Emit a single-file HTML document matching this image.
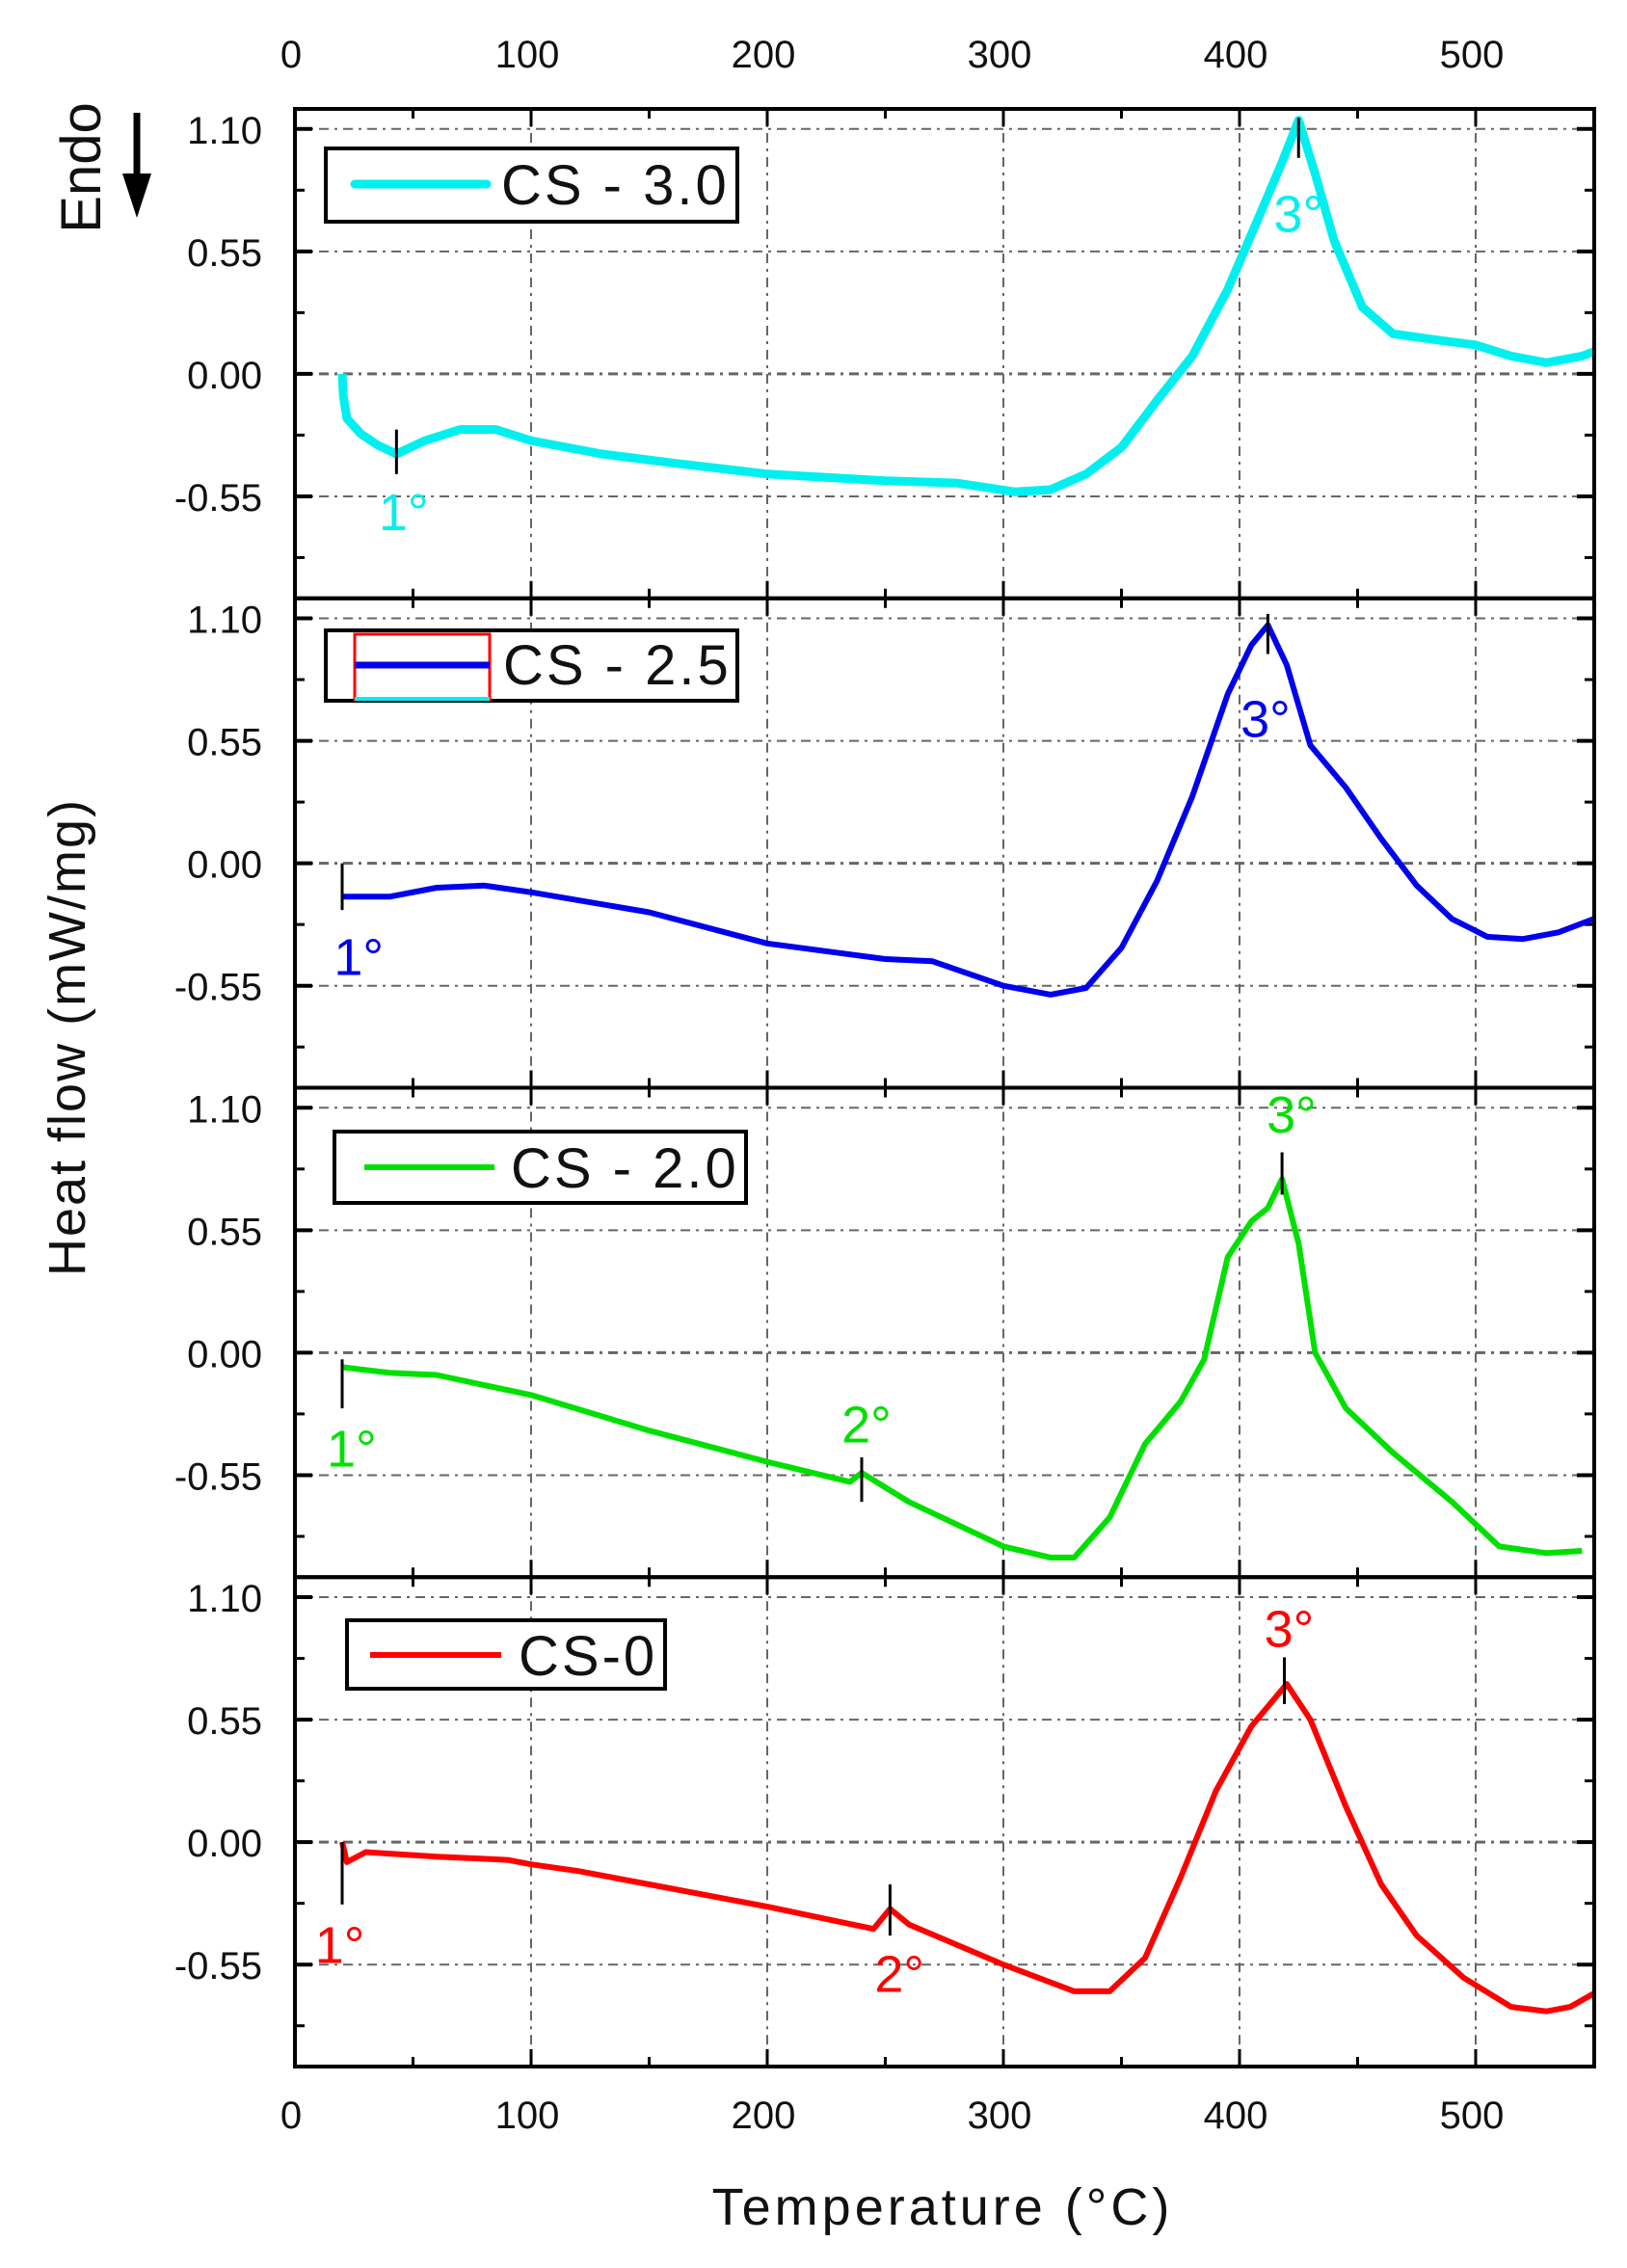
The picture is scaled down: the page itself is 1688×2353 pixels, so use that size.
<!DOCTYPE html>
<html><head><meta charset="utf-8"><title>DSC curves</title>
<style>html,body{margin:0;padding:0;background:#fff}svg{display:block}</style></head>
<body>
<svg id="chart" width="1688" height="2353" viewBox="0 0 1688 2353" xmlns="http://www.w3.org/2000/svg" font-family="'Liberation Sans', Arial, sans-serif"></svg>
<script>
const xTicks = [0,100,200,300,400,500];
const xMinor = [50,150,250,350,450,550];
const yTicks = [1.10,0.55,0.00,-0.55];
const yTickLabels = ["1.10","0.55","0.00","-0.55"];
const yMinor = [0.825,0.275,-0.275,-0.825];
const seriesNames = ["CS - 3.0","CS - 2.5","CS - 2.0","CS-0"];
const seriesColors = ["#00f0f0","#0000ee","#00e000","#ff0000"];
// CS-3.0
const t30 = [20,20.5,22,28,35,43,55,70,85,100,130,160,200,250,280,305,320,335,350,365,380,395,408,418,425,432,440,452,465,485,500,515,530,545,550];
const v30 = [0,-0.1,-0.2,-0.27,-0.32,-0.36,-0.3,-0.25,-0.25,-0.3,-0.36,-0.4,-0.45,-0.48,-0.49,-0.53,-0.52,-0.45,-0.33,-0.12,0.08,0.38,0.7,0.95,1.14,0.9,0.6,0.3,0.18,0.15,0.13,0.08,0.05,0.08,0.1];
// CS-2.5
const t25 = [20,40,60,80,100,150,200,250,270,300,320,335,350,365,380,395,405,412,420,430,445,460,475,490,505,520,535,550];
const v25 = [-0.15,-0.15,-0.11,-0.1,-0.13,-0.22,-0.36,-0.43,-0.44,-0.55,-0.59,-0.56,-0.38,-0.08,0.3,0.76,0.98,1.07,0.89,0.53,0.34,0.11,-0.1,-0.25,-0.33,-0.34,-0.31,-0.25];
// CS-2.0
const t20 = [20,40,60,100,150,200,235,240,260,300,320,330,345,360,375,385,395,405,412,418,425,432,445,465,490,510,530,545];
const v20 = [-0.065,-0.09,-0.1,-0.19,-0.35,-0.49,-0.58,-0.54,-0.67,-0.87,-0.92,-0.92,-0.74,-0.41,-0.22,-0.03,0.43,0.59,0.65,0.78,0.49,0.0,-0.25,-0.45,-0.67,-0.87,-0.9,-0.89];
// CS-0
const t0 = [20,22,30,60,90,100,120,150,200,245,252,260,300,330,345,360,375,390,405,420,430,445,460,475,495,515,530,540,550];
const v0 = [0,-0.09,-0.045,-0.065,-0.08,-0.1,-0.13,-0.19,-0.29,-0.39,-0.3,-0.37,-0.55,-0.67,-0.67,-0.52,-0.16,0.23,0.52,0.71,0.55,0.16,-0.19,-0.42,-0.61,-0.74,-0.76,-0.74,-0.68];
const seriesT = [t30,t25,t20,t0];
const seriesV = [v30,v25,v20,v0];
const annText = [["1°","3°"],["1°","3°"],["1°","2°","3°"],["1°","2°","3°"]];
const annT = [[46,425],[27,411],[24,242,422],[19,256,421]];
const annV = [[-0.62,0.72],[-0.42,0.65],[-0.43,-0.32,1.07],[-0.46,-0.59,0.96]];
const markT = [[43,425],[20,412],[20,240,418],[20,252,419]];
const markV1 = [[-0.25,1.15],[0,1.12],[-0.03,-0.47,0.90],[0,-0.19,0.83]];
const markV2 = [[-0.45,0.97],[-0.21,0.94],[-0.25,-0.67,0.71],[-0.28,-0.42,0.62]];

const NS="http://www.w3.org/2000/svg";
const svg=document.getElementById('chart');
const L=306, R=1654, PT=113, PH=507.75, VTOP=1.19, PXU=231;
const X=t=>L+t*2.45;
const Y=(p,v)=>PT+p*PH+(VTOP-v)*PXU;
function mk(tag,attrs,parent){const e=document.createElementNS(NS,tag);for(const k in attrs)e.setAttribute(k,attrs[k]);(parent||svg).appendChild(e);return e;}

for(let p=0;p<4;p++){
  const g=mk('g',{});
  
  
  const top=PT+p*PH, bot=top+PH;
  xTicks.slice(1).forEach(t=>{const l=mk('line',{x1:X(t),x2:X(t),y1:top,y2:bot,stroke:'#666','stroke-width':2,'stroke-dasharray':'10 6 3 6'},g);
    });
  yTicks.forEach(v=>{const l=mk('line',{x1:L,x2:R,y1:Y(p,v),y2:Y(p,v),stroke:'#666','stroke-width':v===0?3:2,'stroke-dasharray':'10 6 3 6'},g);
    });
  xTicks.forEach(t=>{mk('line',{x1:X(t),x2:X(t),y1:top,y2:top+18,stroke:'#000','stroke-width':3},g);mk('line',{x1:X(t),x2:X(t),y1:bot,y2:bot-18,stroke:'#000','stroke-width':3},g);});
  xMinor.forEach(t=>{if(X(t)<R){mk('line',{x1:X(t),x2:X(t),y1:top,y2:top+10,stroke:'#000','stroke-width':3},g);mk('line',{x1:X(t),x2:X(t),y1:bot,y2:bot-10,stroke:'#000','stroke-width':3},g);}});
  yTicks.forEach((v,i)=>{mk('line',{x1:L,x2:L+18,y1:Y(p,v),y2:Y(p,v),stroke:'#000','stroke-width':4},g);mk('line',{x1:R,x2:R-18,y1:Y(p,v),y2:Y(p,v),stroke:'#000','stroke-width':4},g);
    const tx=mk('text',{x:272,y:Y(p,v)+15,'text-anchor':'end','font-size':40,fill:'#111'},g);tx.textContent=yTickLabels[i];
    });
  yMinor.forEach(v=>{mk('line',{x1:L,x2:L+10,y1:Y(p,v),y2:Y(p,v),stroke:'#000','stroke-width':3},g);mk('line',{x1:R,x2:R-10,y1:Y(p,v),y2:Y(p,v),stroke:'#000','stroke-width':3},g);});
  const pts=seriesT[p].map((t,i)=>X(t).toFixed(1)+','+Y(p,seriesV[p][i]).toFixed(1)).join(' ');
  const c=mk('polyline',{points:pts,fill:'none',stroke:seriesColors[p],'stroke-width':p===0?9:6,'stroke-linejoin':'round'},g);
  
  
  annText[p].forEach((s,i)=>{
    const m=mk('line',{x1:X(markT[p][i]),x2:X(markT[p][i]),y1:Y(p,markV1[p][i]),y2:Y(p,markV2[p][i]),stroke:'#000','stroke-width':3},g);
    
    const tx=mk('text',{x:X(annT[p][i]),y:Y(p,annV[p][i])+19,'text-anchor':'middle','font-size':54,fill:seriesColors[p]},g);
    tx.textContent=s;
    
  });
  const f=mk('rect',{x:L,y:top,width:R-L,height:PH,fill:'none',stroke:'#000','stroke-width':4},g);
  
}
xTicks.forEach(t=>{[70,2208].forEach(yy=>{const tx=mk('text',{x:X(t)-4,y:yy,'text-anchor':'middle','font-size':40,fill:'#111'});tx.textContent=t;
  });});
</script>
<svg style="position:absolute;left:0;top:0" width="1688" height="2353" font-family="'Liberation Sans', Arial, sans-serif">
  <g>
    <rect x="338" y="154" width="427" height="76" fill="#fff" stroke="#000" stroke-width="4"/>
    <line x1="368" y1="191" x2="505" y2="191" stroke="#00f0f0" stroke-width="9" stroke-linecap="round"/>
    <text x="520" y="212" font-size="58" fill="#111" letter-spacing="3">CS - 3.0</text>
  </g>
  <g>
    <rect x="338" y="654" width="427" height="73" fill="#fff" stroke="#000" stroke-width="4"/>
    <rect x="368" y="658" width="140" height="68" fill="none" stroke="#ff0000" stroke-width="3"/>
    <line x1="368" y1="725" x2="508" y2="725" stroke="#00f0f0" stroke-width="4"/>
    <line x1="368" y1="690" x2="508" y2="690" stroke="#0000ee" stroke-width="7"/>
    <text x="522" y="710" font-size="58" fill="#111" letter-spacing="3">CS - 2.5</text>
  </g>
  <g>
    <rect x="347" y="1174" width="427" height="74" fill="#fff" stroke="#000" stroke-width="4"/>
    <line x1="378" y1="1211" x2="513" y2="1211" stroke="#00e000" stroke-width="6"/>
    <text x="530" y="1232" font-size="58" fill="#111" letter-spacing="3">CS - 2.0</text>
  </g>
  <g>
    <rect x="360" y="1681" width="330" height="71" fill="#fff" stroke="#000" stroke-width="4"/>
    <line x1="384" y1="1717" x2="520" y2="1717" stroke="#ff0000" stroke-width="6"/>
    <text x="538" y="1738" font-size="58" fill="#111" letter-spacing="3">CS-0</text>
  </g>
  <text transform="translate(88,1076) rotate(-90)" text-anchor="middle" font-size="54" fill="#111" letter-spacing="2">Heat flow (mW/mg)</text>
  <text transform="translate(104,174) rotate(-90)" text-anchor="middle" font-size="58" fill="#111">Endo</text>
  <g>
    <line x1="142" y1="117" x2="142" y2="195" stroke="#000" stroke-width="7"/>
    <polygon points="127,180 157,180 142,226" fill="#000"/>
  </g>
  <text x="978" y="2308" text-anchor="middle" font-size="54" fill="#111" letter-spacing="4">Temperature (°C)</text>
</svg>
</body></html>
